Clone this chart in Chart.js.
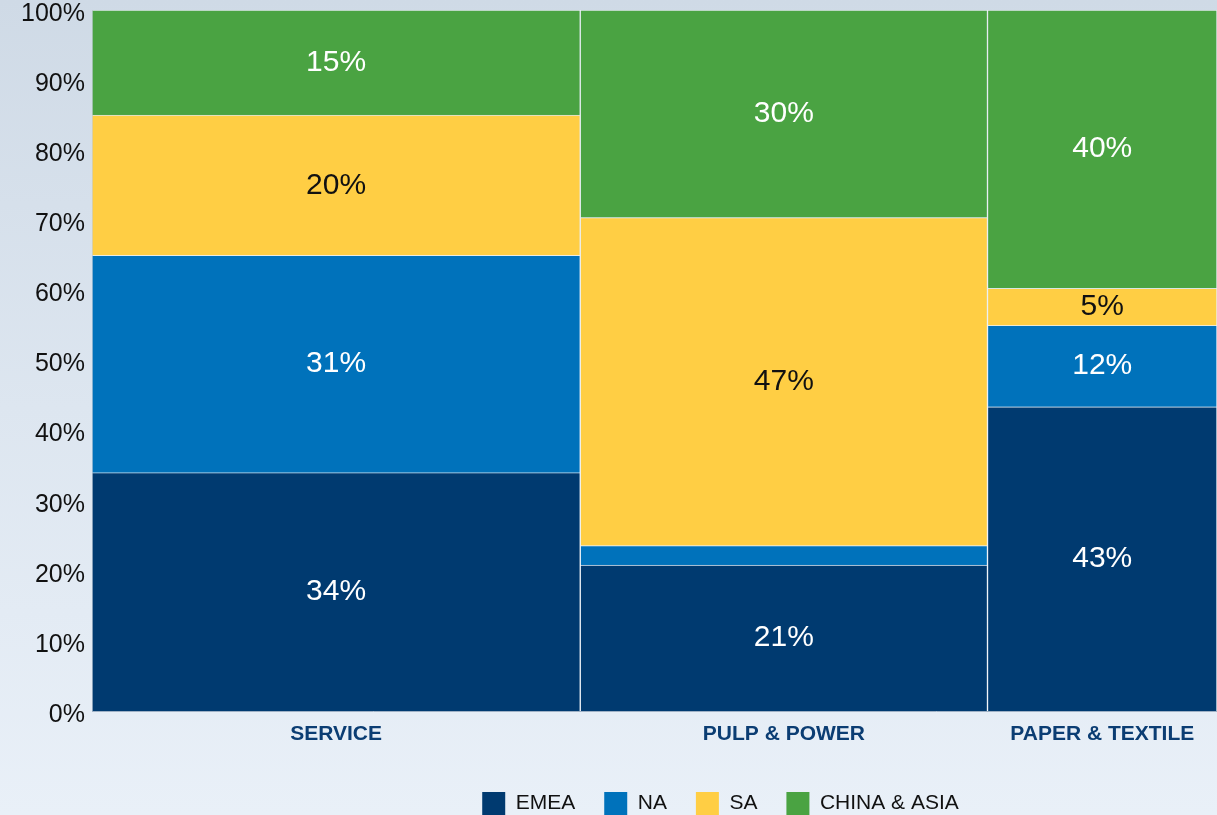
<!DOCTYPE html>
<html>
<head>
<meta charset="utf-8">
<script src="https://cdn.jsdelivr.net/npm/chart.js@4.4.1/dist/chart.umd.min.js"></script>
<style>
  html, body { margin: 0; padding: 0; }
  body { width: 1217px; height: 815px; overflow: hidden;
         background: linear-gradient(to bottom, #cfdae6 0%, #dde6f0 50%, #e9f0f8 100%); }
  #wrap { position: relative; width: 1217px; height: 815px; }
  canvas { display: block; }
</style>
</head>
<body>
<div id="wrap"><canvas id="c" width="1217" height="815"></canvas></div>
<script>
// ---- data ----
const categories = ['SERVICE', 'PULP & POWER', 'PAPER & TEXTILE'];
const categoryShare = [43.4, 36.2, 20.4];           // width of each column (% of total)
const regions = ['EMEA', 'NA', 'SA', 'CHINA & ASIA'];
const emea = [34, 20.8, 43.4];
const na = [31, 2.8, 11.6];
const sa = [20, 46.8, 5.3];
const chinaAsia = [15, 29.6, 39.7];
const yTickStep = 10;

// ---- styles ----
const colors = ['#003a70', '#0072bb', '#ffce44', '#4aa342'];
const labelColors = ['#ffffff', '#ffffff', '#111111', '#ffffff'];
const FONT = '"Liberation Sans", Arial, Helvetica, sans-serif';

// column boundaries from shares
const bounds = [0];
categoryShare.forEach(s => bounds.push(bounds[bounds.length - 1] + s));
const centers = categoryShare.map((s, k) => (bounds[k] + bounds[k + 1]) / 2);

// Each column is a bar with 'flex' thickness; null neighbours mirror the
// column edges so the bar spans exactly [left edge, right edge].
function mekkoData(values) {
  const out = [];
  values.forEach((v, k) => {
    const L = bounds[k], R = bounds[k + 1], w = R - L;
    out.push({x: L - w / 2, y: null}, {x: (L + R) / 2, y: v}, {x: R + w / 2, y: null});
  });
  return out;
}

const seriesValues = [emea, na, sa, chinaAsia];
const datasets = regions.map((name, i) => ({
  label: name,
  data: mekkoData(seriesValues[i]),
  backgroundColor: colors[i],
  borderColor: 'rgba(255,255,255,0.4)',
  borderWidth: {top: 1, left: 1, right: 1, bottom: 0},
  borderSkipped: false,
  barThickness: 'flex',
  categoryPercentage: 1,
  barPercentage: 1
}));

const dataLabels = {
  id: 'dataLabels',
  afterDatasetsDraw(chart) {
    const ctx = chart.ctx;
    ctx.save();
    ctx.font = '30px ' + FONT;
    ctx.textAlign = 'center';
    ctx.textBaseline = 'middle';
    chart.data.datasets.forEach((ds, i) => {
      const meta = chart.getDatasetMeta(i);
      meta.data.forEach((el, j) => {
        const v = ds.data[j].y;
        if (v === null || v < 4) return;
        ctx.fillStyle = labelColors[i];
        ctx.fillText(Math.round(v) + '%', el.x, (el.y + el.base) / 2);
      });
    });
    ctx.restore();
  }
};

const legendShift = {
  id: 'legendShift',
  afterLayout(chart) {
    const l = chart.legend;
    l.left += 112; l.right += 112;
    l.top += 10; l.bottom += 10;
  }
};

new Chart(document.getElementById('c'), {
  type: 'bar',
  data: { datasets },
  plugins: [dataLabels, legendShift],
  options: {
    responsive: false,
    animation: false,
    layout: { padding: { top: 10, right: 0, left: 0, bottom: 0 } },
    plugins: {
      tooltip: { enabled: false },
      legend: {
        position: 'bottom',
        align: 'center',
        labels: {
          boxWidth: 23,
          boxHeight: 23,
          padding: 29,
          color: '#111111',
          font: { family: FONT, size: 21 },
          generateLabels: (chart) =>
            Chart.defaults.plugins.legend.labels.generateLabels(chart)
              .map(l => Object.assign(l, { lineWidth: 0, strokeStyle: l.fillStyle }))
        }
      }
    },
    scales: {
      x: {
        type: 'linear',
        stacked: true,
        offset: false,
        min: 0,
        max: 100,
        grid: { display: false, drawTicks: false },
        border: { display: true, color: '#9fb1c5', width: 1 },
        afterBuildTicks: (scale) => { scale.ticks = centers.map(v => ({ value: v })); },
        afterFit: (scale) => { scale.height = 42; scale.paddingLeft = 0; scale.paddingRight = 0; },
        ticks: {
          autoSkip: false,
          maxRotation: 0,
          padding: 11,
          color: '#0b3d73',
          font: { family: FONT, size: 21, weight: 'bold' },
          callback: (v, idx) => categories[idx]
        }
      },
      y: {
        stacked: true,
        min: 0,
        max: 100,
        grid: { display: false, drawTicks: false },
        border: { display: true, color: '#9fb1c5', width: 1 },
        afterFit: (scale) => { scale.width = 92; scale.paddingTop = 0; scale.paddingBottom = 0; },
        ticks: {
          stepSize: yTickStep,
          padding: 7,
          labelOffset: 4,
          color: '#111111',
          font: { family: FONT, size: 25 },
          callback: (v) => v + '%'
        }
      }
    }
  }
});
</script>
</body>
</html>
